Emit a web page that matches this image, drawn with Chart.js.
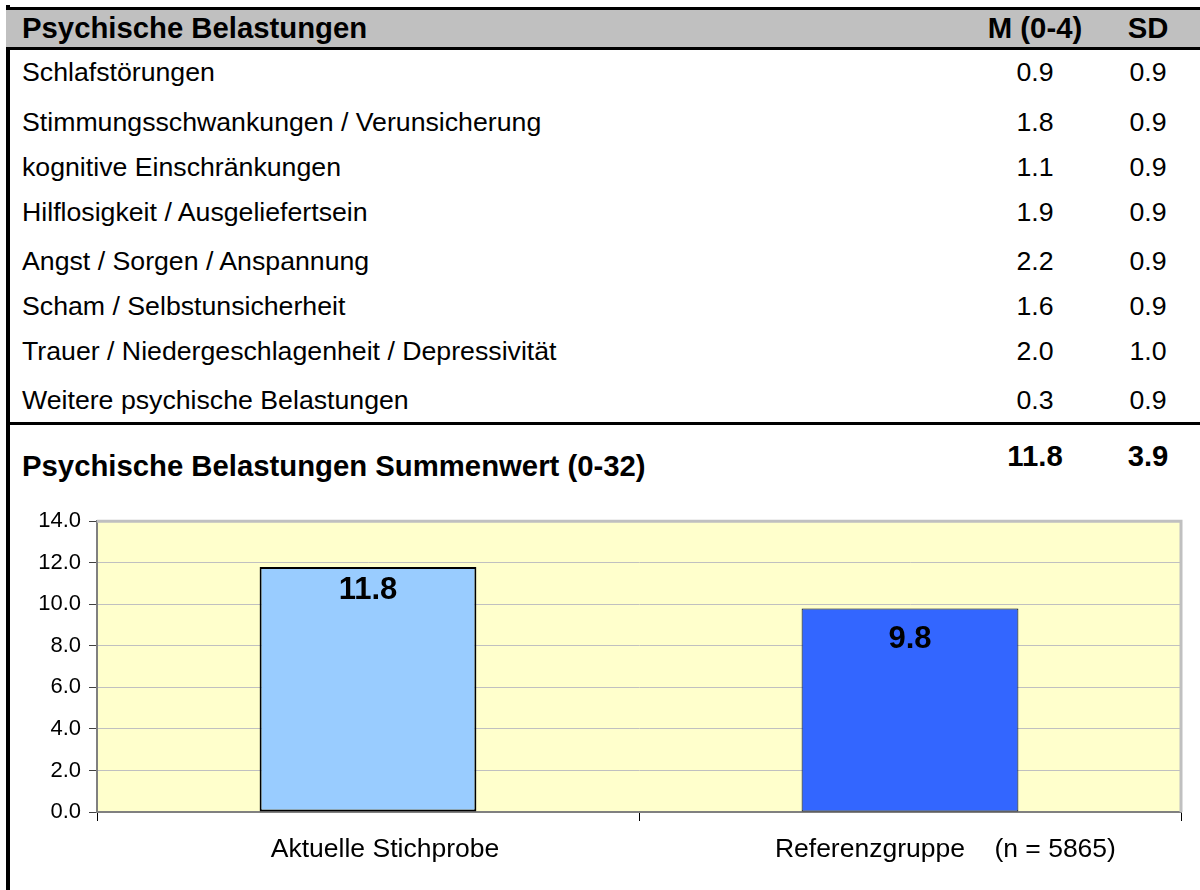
<!DOCTYPE html>
<html>
<head>
<meta charset="utf-8">
<script src="https://cdn.jsdelivr.net/npm/chart.js@4"></script>
<style>
    body { margin: 0; width: 1200px; height: 890px; background: #fff; position: relative; overflow: hidden;
           font-family: 'Liberation Sans', Arial, sans-serif; color: #000; }
    .abs { position: absolute; white-space: pre; }
    #frame { left: 6px; top: 5px; width: 4px; height: 885px; background: #000; }
    #head { left: 6px; top: 7px; width: 1194px; height: 37px; background: #c0c0c0;
            border-top: 3px solid #000; border-bottom: 3px solid #000; }
    .h { font-weight: bold; font-size: 29.3px; height: 34px; line-height: 34px; }
    .r { font-size: 26.7px; height: 30px; line-height: 30px; }
    .c1 { left: 985px; width: 100px; text-align: center; }
    .c2 { left: 1098px; width: 100px; text-align: center; }
    #sep { left: 6px; top: 422px; width: 1194px; height: 3px; background: #000; }
    #box { position: absolute; left: 0; top: 500px; width: 1200px; height: 390px; }
</style>
</head>
<body>
<div id="frame" class="abs"></div>
<div id="head" class="abs"></div>
<div id="sep" class="abs"></div>
<div id="table"></div>
<div id="box"><canvas id="myChart"></canvas></div>
<script>
var table_title = "Psychische Belastungen";
var col_heads = ["M (0-4)", "SD"];
var items = ["Schlafstörungen", "Stimmungsschwankungen / Verunsicherung", "kognitive Einschränkungen",
    "Hilflosigkeit / Ausgeliefertsein", "Angst / Sorgen / Anspannung", "Scham / Selbstunsicherheit",
    "Trauer / Niedergeschlagenheit / Depressivität", "Weitere psychische Belastungen"];
var means = [0.9, 1.8, 1.1, 1.9, 2.2, 1.6, 2.0, 0.3];
var sds = [0.9, 0.9, 0.9, 0.9, 0.9, 0.9, 1.0, 0.9];
var sum_title = "Psychische Belastungen Summenwert (0-32)";
var sum_mean = 11.8;
var sum_sd = 3.9;

var labels = ["Aktuelle Stichprobe", "     Referenzgruppe    (n = 5865)"];
var values = [11.8, 9.8];
var bar_colors = ["#99CCFF", "#3366FF"];
var y_ticks = [0, 2, 4, 6, 8, 10, 12, 14];

// table part (row centres in px)
var row_y = [72, 122, 167, 212, 261, 306, 351, 400];
var html = "";
function cell(text, cls, top, extra) {
    return `<div class="abs ${cls}" style="top:${top}px;${extra || ''}">${text}</div>`;
}
html += cell(table_title, "h", 11, "left:22px;");
html += cell(col_heads[0], "h c1", 11);
html += cell(col_heads[1], "h c2", 11);
for (let i = 0; i < items.length; i++) {
    let top = row_y[i] - 15;
    html += cell(items[i], "r", top, "left:22px;");
    html += cell(means[i].toFixed(1), "r c1", top);
    html += cell(sds[i].toFixed(1), "r c2", top);
}
html += cell(sum_title, "h", 449, "left:22px;");
html += cell(sum_mean.toFixed(1), "h c1", 439);
html += cell(sum_sd.toFixed(1), "h c2", 439);
document.getElementById("table").innerHTML = html;

// chart part
Chart.defaults.font.family = "'Liberation Sans', Arial, sans-serif";
Chart.defaults.color = "#000";

var plotArea = {
    id: "plotArea",
    beforeDraw(chart) {
        let a = chart.chartArea, c = chart.ctx;
        c.save();
        c.fillStyle = "#FFFFCC";
        c.fillRect(a.left, a.top, a.right - a.left, a.bottom - a.top);
        c.restore();
    },
    beforeDatasetsDraw(chart) {
        let a = chart.chartArea, c = chart.ctx;
        c.save();
        c.strokeStyle = "#c0c0c0";
        c.lineWidth = 3;
        c.beginPath();
        c.moveTo(a.left, a.top);
        c.lineTo(a.right, a.top);
        c.lineTo(a.right, a.bottom);
        c.stroke();
        c.restore();
    }
};

var barLabels = {
    id: "barLabels",
    afterDatasetsDraw(chart) {
        let c = chart.ctx;
        let offs = [24, 31];
        c.save();
        c.font = "bold 31px 'Liberation Sans', Arial, sans-serif";
        c.fillStyle = "#000";
        c.textAlign = "center";
        c.textBaseline = "middle";
        chart.getDatasetMeta(0).data.forEach((bar, i) => {
            c.fillText(values[i].toFixed(1), bar.x, bar.y + offs[i]);
        });
        c.restore();
    }
};

var ctx = document.getElementById("myChart");
var chart = new Chart(ctx, {
    type: "bar",
    data: {
        labels: labels,
        datasets: [{
            data: values,
            backgroundColor: bar_colors,
            borderColor: "#000",
            borderWidth: [2, 1],
            borderSkipped: false,
            categoryPercentage: 1,
            barPercentage: 0.4
        }]
    },
    options: {
        responsive: true,
        maintainAspectRatio: false,
        animation: false,
        layout: { padding: { top: 21, right: 19, left: 0, bottom: 0 } },
        plugins: { legend: { display: false }, tooltip: { enabled: false } },
        scales: {
            y: {
                min: 0,
                max: 14,
                afterBuildTicks: (s) => { s.ticks = y_ticks.map(v => ({ value: v })); },
                afterFit: (s) => { s.width = 97; },
                ticks: { font: { size: 22 }, padding: 8, callback: (v) => Number(v).toFixed(1) },
                grid: { color: "#c0c0c0", tickColor: "#404040", tickLength: 8, lineWidth: 1 },
                border: { color: "#808080", width: 2 }
            },
            x: {
                afterFit: (s) => { s.height = 78; },
                ticks: { font: { size: 26.5 }, padding: 13, labelOffset: 17, maxRotation: 0 },
                grid: { drawOnChartArea: false, tickColor: "#000", tickLength: 9, offset: true },
                border: { color: "#808080", width: 2 }
            }
        }
    },
    plugins: [plotArea, barLabels]
});
</script>
</body>
</html>
